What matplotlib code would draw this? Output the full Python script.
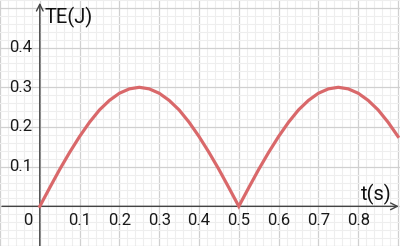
import matplotlib
matplotlib.use("Agg")
import matplotlib.pyplot as plt

plt.rcParams["font.family"] = ["Roboto", "DejaVu Sans"]

# total energy, every 0.025 s
t = [0.0, 0.025, 0.05, 0.075, 0.1, 0.125, 0.15, 0.175, 0.2, 0.225,
     0.25, 0.275, 0.3, 0.325, 0.35, 0.375, 0.4, 0.425, 0.45, 0.475,
     0.5, 0.525, 0.55, 0.575, 0.6, 0.625, 0.65, 0.675, 0.7, 0.725,
     0.75, 0.775, 0.8, 0.825, 0.85, 0.875, 0.9]
te = [0.0, 0.047, 0.093, 0.136, 0.176, 0.212, 0.243, 0.267, 0.285, 0.296,
      0.300, 0.296, 0.285, 0.267, 0.243, 0.212, 0.176, 0.136, 0.093, 0.047,
      0.0, 0.047, 0.093, 0.136, 0.176, 0.212, 0.243, 0.267, 0.285, 0.296,
      0.300, 0.296, 0.285, 0.267, 0.243, 0.212, 0.176]

x_ticks = [0.1, 0.2, 0.3, 0.4, 0.5, 0.6, 0.7, 0.8]
x_labels = ["0.1", "0.2", "0.3", "0.4", "0.5", "0.6", "0.7", "0.8"]
y_ticks = [0.1, 0.2, 0.3, 0.4]
y_labels = ["0.1", "0.2", "0.3", "0.4"]

xmin, xmax = -0.095, 0.905
ymin, ymax = -0.1, 0.515

fig = plt.figure(figsize=(4, 2.46), dpi=100)
ax = fig.add_axes([0, 0, 1, 1])
ax.set_xlim(xmin, xmax)
ax.set_ylim(ymin, ymax)
for s in ax.spines.values():
    s.set_visible(False)

# grid: major every 0.1, minor every 0.02
major = [i / 10 for i in range(-1, 10)]
minor = [i / 50 for i in range(-5, 46)]
ax.set_xticks(major)
ax.set_yticks(major[:7])
ax.set_xticks(minor, minor=True)
ax.set_yticks(minor[:32], minor=True)
ax.tick_params(which="both", length=0, labelbottom=False, labelleft=False)
ax.grid(which="minor", color="#eeeeee", lw=0.8)
ax.grid(which="major", color="#d0d0d0", lw=0.9)
ax.set_axisbelow(True)

# axes with arrows
ax.annotate("", xy=(xmax - 0.003, 0), xytext=(xmin, 0),
            arrowprops=dict(arrowstyle="->", lw=1.0, color="#444444",
                            mutation_scale=12, shrinkA=0, shrinkB=0))
ax.annotate("", xy=(0, ymax - 0.002), xytext=(0, ymin),
            arrowprops=dict(arrowstyle="->", lw=1.0, color="#444444",
                            mutation_scale=12, shrinkA=0, shrinkB=0))

ax.plot(t, te, color="#d9686a", lw=2.3, solid_joinstyle="miter", zorder=5)

for x, lab in zip(x_ticks, x_labels):
    ax.text(x, -0.035, lab, ha="center", va="center", fontsize=12, color="#1a1a1a")
for y, lab in zip(y_ticks, y_labels):
    ax.text(-0.02, y, lab, ha="right", va="center", fontsize=12, color="#1a1a1a")
ax.text(-0.03, -0.035, "0", ha="center", va="center", fontsize=12, color="#1a1a1a")

ax.text(0.012, 0.502, "TE(J)", ha="left", va="top", fontsize=14.5, color="#111111")
ax.text(0.885, 0.004, "t(s)", ha="right", va="bottom", fontsize=14.5, color="#111111")

fig.savefig("out.png", dpi=100)
